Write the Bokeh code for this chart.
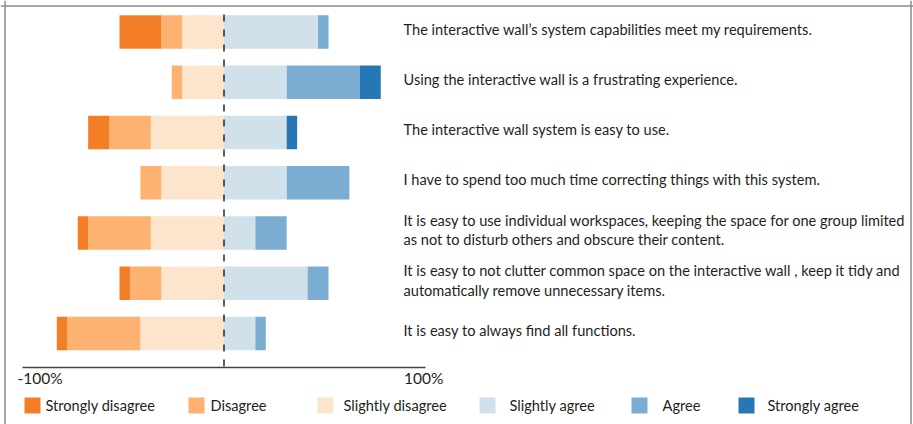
import numpy as np
from bokeh.plotting import figure
from bokeh.models import Range1d, Span
from bokeh.core.properties import value
from bokeh.embed import file_html
from bokeh.resources import INLINE

# ---------------- data (percent of respondents, n = 20) ----------------
statements = [
    ["The interactive wall’s system capabilities meet my requirements."],
    ["Using the interactive wall is a frustrating experience."],
    ["The interactive wall system is easy to use."],
    ["I have to spend too much time correcting things with this system."],
    ["It is easy to use individual workspaces, keeping the space for one group limited",
     "as not to disturb others and obscure their content."],
    ["It is easy to not clutter common space on the interactive wall , keep it tidy and",
     "automatically remove unnecessary items."],
    ["It is easy to always find all functions."],
]
categories = ["Strongly disagree", "Disagree", "Slightly disagree",
              "Slightly agree", "Agree", "Strongly agree"]
strongly_disagree = [20, 0, 10, 0, 5, 5, 5]
disagree = [10, 5, 20, 10, 30, 15, 35]
slightly_disagree = [20, 20, 35, 30, 35, 30, 40]
slightly_agree = [45, 30, 30, 30, 15, 40, 15]
agree = [5, 35, 0, 30, 15, 10, 5]
strongly_agree = [0, 10, 5, 0, 0, 0, 0]
tick_labels = ["-100%", "100%"]

colors = ["#F47E26", "#FDB271", "#FDE4CC", "#D0E1EC", "#7BADD3", "#2877B5"]
TEXT = "#231F20"
FONT = "Lato"
FS = "14.6px"

# ---------------- layout geometry ----------------
W, H = 913, 424
X0 = 223.5          # px of 0 %
PXP = 2.09          # px per percent
Y0 = 31.5           # px of first row centre
ROW = 50.25         # px per row


def px_x(page_x):
    return (page_x - X0) / PXP


def px_y(page_y):
    return (page_y - Y0) / ROW


p = figure(width=W, height=H,
           x_range=Range1d(-X0 / PXP, (W - X0) / PXP),
           y_range=Range1d((H - Y0) / ROW, -Y0 / ROW),
           x_axis_type=None, y_axis_type=None,
           output_backend="svg", toolbar_location=None, min_border=0)
p.outline_line_color = None
p.background_fill_color = "white"
p.border_fill_color = "white"

rows = np.arange(len(statements))
BAR_H = 33.5 / ROW

# negative side: slightly disagree nearest the centre
cum = np.zeros(len(rows))
for vals, col in [(slightly_disagree, colors[2]), (disagree, colors[1]),
                  (strongly_disagree, colors[0])]:
    v = np.array(vals, dtype=float)
    p.hbar(y=rows, left=-(cum + v), right=-cum, height=BAR_H,
           fill_color=col, line_color=None)
    cum = cum + v

cum = np.zeros(len(rows))
for vals, col in [(slightly_agree, colors[3]), (agree, colors[4]),
                  (strongly_agree, colors[5])]:
    v = np.array(vals, dtype=float)
    p.hbar(y=rows, left=cum, right=cum + v, height=BAR_H,
           fill_color=col, line_color=None)
    cum = cum + v

# centre dashed line
p.segment(x0=[0], y0=[px_y(14)], x1=[0], y1=[px_y(366)],
          line_color="#333333", line_width=1.6, line_dash="7 8")

# axis line
p.segment(x0=[px_x(22)], y0=[px_y(367)], x1=[px_x(425)], y1=[px_y(367)],
          line_color="#444444", line_width=1.5)

# tick labels
p.text(x=[px_x(17)], y=[px_y(377)], text=[tick_labels[0]],
       text_align="left", text_baseline="middle", text_color=TEXT,
       text_font=value(FONT), text_font_size="15.5px")
p.text(x=[px_x(443)], y=[px_y(377)], text=[tick_labels[1]],
       text_align="right", text_baseline="middle", text_color=TEXT,
       text_font=value(FONT), text_font_size="15.5px")

# statement labels
xs, ys, ts = [], [], []
LINE = 19.5
for i, lines in enumerate(statements):
    n = len(lines)
    for k, t in enumerate(lines):
        off = -3 + (k - (n - 1) / 2) * LINE
        xs.append(px_x(403))
        ys.append(i + off / ROW)
        ts.append(t)
p.text(x=xs, y=ys, text=ts, text_align="left", text_baseline="middle",
       text_color=TEXT, text_font=value(FONT), text_font_size=FS)

# legend
sq_x = [32, 196, 325, 487, 639, 746]
lab_x = [45, 210, 343, 509, 662, 767]
ly = px_y(405)
p.rect(x=[px_x(v) for v in sq_x], y=[ly] * 6, width=16, height=16,
       width_units="screen", height_units="screen",
       fill_color=colors, line_color=None)
p.text(x=[px_x(v) for v in lab_x], y=[ly] * 6, text=categories,
       text_align="left", text_baseline="middle", text_color=TEXT,
       text_font=value(FONT), text_font_size=FS)

# frame border (left, top, right)
for loc, dim in [(px_x(4.5), "height"), (px_x(910.5), "height"),
                 (px_y(5.5), "width")]:
    p.add_layout(Span(location=loc, dimension=dim, line_color="#8a8a8a",
                      line_width=1.5))

open("out.html", "w").write(file_html(p, INLINE))
